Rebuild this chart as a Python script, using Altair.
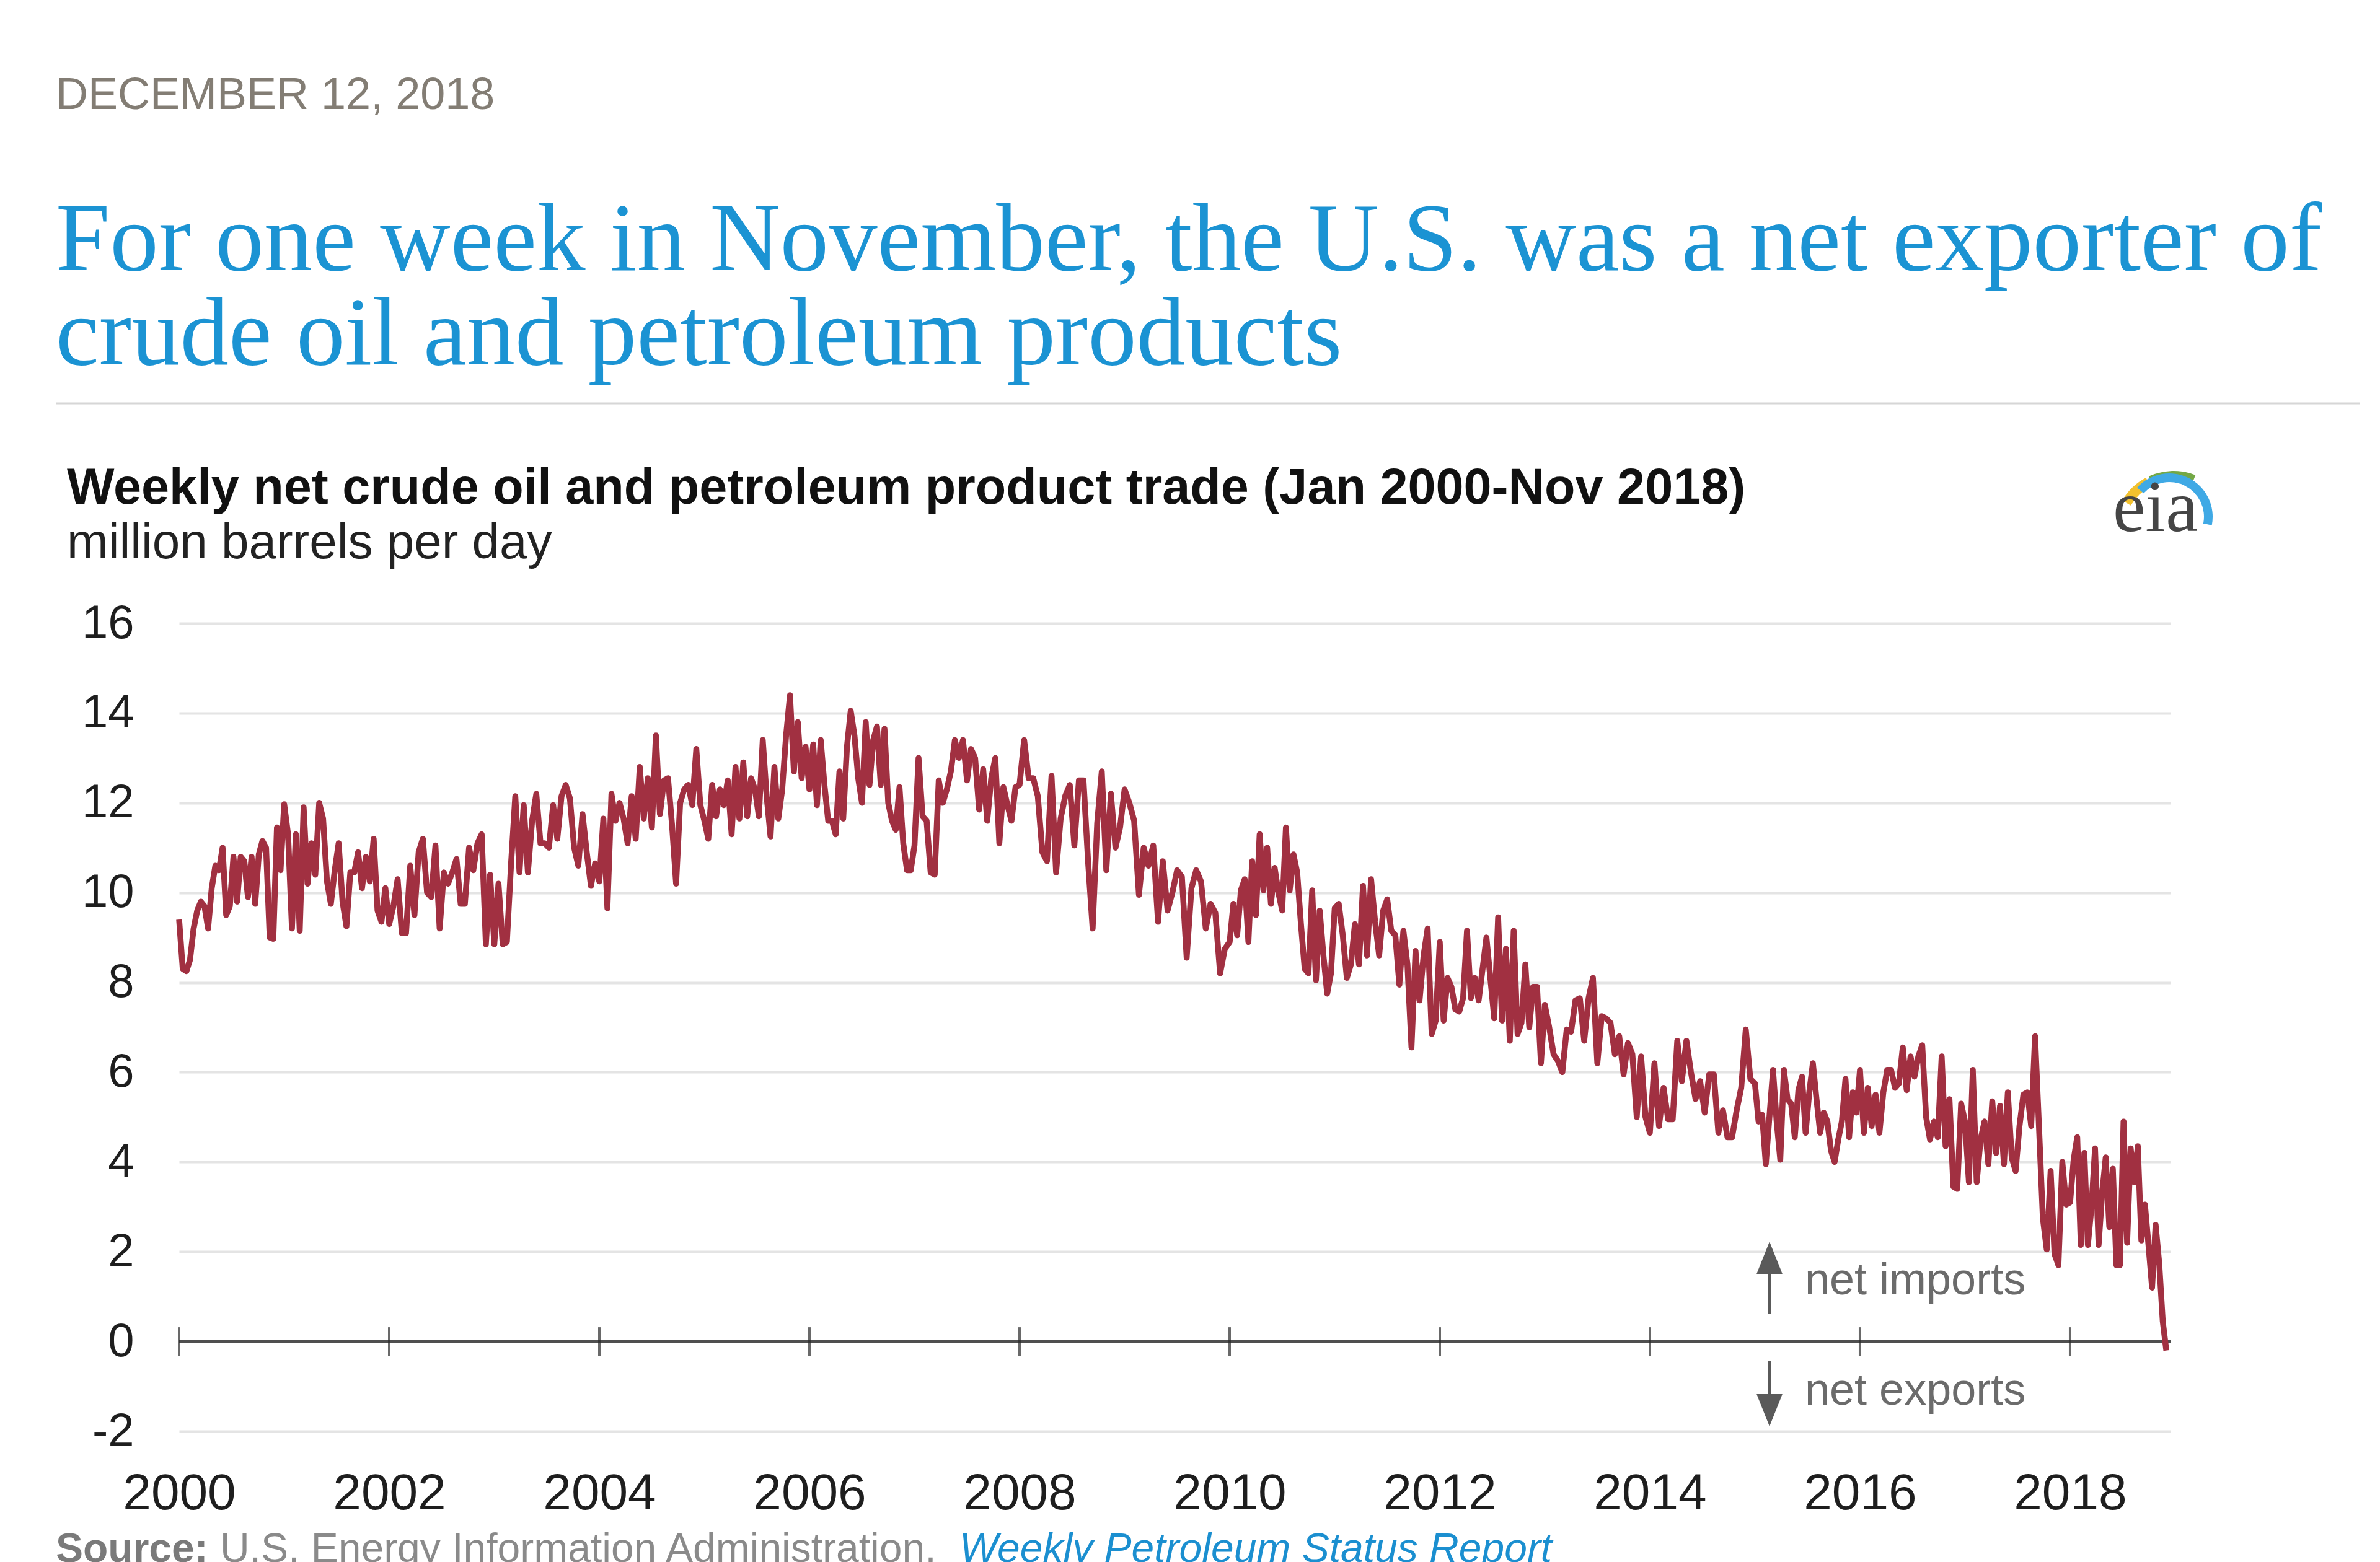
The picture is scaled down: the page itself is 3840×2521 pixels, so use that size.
import altair as alt
import pandas as pd

# ---------------- data (million barrels per day) ----------------
V2000 = [9.4, 8.3, 8.25, 8.5, 9.2, 9.6, 9.8, 9.7, 9.2, 10.1, 10.6, 10.5, 11.0, 9.5, 9.7, 10.8, 9.8,
         10.8, 10.7, 9.9, 10.8, 9.75, 10.85, 11.15, 11.0, 9.0, 8.97, 11.45, 10.5]
V2001 = [11.97, 11.3, 9.2, 11.3, 9.15, 11.9, 10.2, 11.1, 10.4, 12.0, 11.65, 10.25, 9.75, 10.5, 11.1,
         9.8, 9.25, 10.45, 10.45, 10.9, 10.1, 10.8, 10.25, 11.2, 9.6, 9.35, 10.1]
V2002 = [9.3, 9.7, 10.3, 9.1, 9.1, 10.6, 9.5, 10.9, 11.2, 10.0, 9.9, 11.05, 9.2, 10.45, 10.2, 10.45,
         10.75, 9.75, 9.75, 11.0, 10.5, 11.1, 11.3, 8.85, 10.4]
V2003 = [8.85, 10.2, 8.85, 8.9, 10.65, 12.15, 10.45, 11.95, 10.45, 11.6, 12.2, 11.1, 11.1, 11.0, 11.95,
         11.2, 12.15, 12.4, 12.1, 11.0, 10.6, 11.75, 10.9, 10.15, 10.65]
V2004 = [10.25, 11.65, 9.65, 12.2, 11.6, 12.0, 11.65, 11.1, 12.15, 11.2, 12.8, 11.65, 12.55, 11.45, 13.5,
         11.75, 12.5, 12.55, 11.5, 10.2, 12.0, 12.3, 12.4, 11.95, 13.2, 11.95]
V2005 = [11.6, 11.2, 12.4, 11.7, 12.3, 11.95, 12.5, 11.3, 12.8, 11.65, 12.9, 11.7, 12.55, 12.3, 11.7,
         13.4, 12.15, 11.25, 12.8, 11.65, 12.3, 13.5, 14.4, 12.7, 13.8, 12.55, 13.25]
V2006 = [12.3, 13.3, 11.95, 13.4, 12.4, 11.6, 11.6, 11.3, 12.7, 11.65, 13.25, 14.05, 13.5, 12.55, 12.0,
         13.8, 12.4, 13.4, 13.7, 12.4, 13.65, 12.0, 11.6, 11.4, 12.35, 11.1, 10.5, 10.5]
V2007 = [11.05, 13.0, 11.7, 11.6, 10.45, 10.4, 12.5, 12.0, 12.3, 12.7, 13.4, 13.0, 13.4, 12.5, 13.2,
         13.0, 11.85, 12.75, 11.6, 12.55, 13.0, 11.1, 12.35, 11.95, 11.6, 12.35]
V2008 = [12.4, 13.4, 12.55, 12.55, 12.15, 10.9, 10.7, 12.6, 10.45, 11.65, 12.15, 12.4, 11.05, 12.5,
         12.5, 10.7, 9.2, 11.55, 12.7, 10.5, 12.2, 11.0, 11.45]
V2009 = [12.3, 12.0, 11.6, 9.95, 11.0, 10.6, 11.05, 9.35, 10.7, 9.6, 10.0, 10.5, 10.35, 8.55, 10.1,
         10.5, 10.25, 9.2, 9.75, 9.55, 8.2, 8.75]
V2010 = [8.9, 9.75, 9.05, 10.05, 10.3, 8.9, 10.7, 9.5, 11.3, 10.05, 11.0, 9.75, 10.55, 10.0, 9.6,
         11.45, 10.05, 10.85, 10.45, 9.3, 8.3, 8.2, 10.05, 8.05, 9.6, 8.6, 7.75, 8.2]
V2011 = [9.65, 9.75, 9.05, 8.1, 8.4, 9.3, 8.4, 10.15, 8.6, 10.3, 9.35, 8.6, 9.6, 9.85, 9.15, 9.05,
         7.95, 9.15, 8.4, 6.55, 8.7, 7.6, 8.6, 9.2, 6.85, 7.15]
V2012 = [8.9, 7.15, 8.1, 7.9, 7.4, 7.35, 7.65, 9.15, 7.65, 8.1, 7.6, 8.3, 9.0, 8.1, 7.2, 9.45, 7.15,
         8.75, 6.7, 9.15, 6.85, 7.1, 8.4, 7.0, 7.9, 7.9, 6.2]
V2013 = [7.5, 7.0, 6.4, 6.25, 6.0, 6.95, 6.9, 7.6, 7.65, 6.7, 7.65, 8.1, 6.2, 7.25, 7.2, 7.1, 6.4,
         6.8, 5.95, 6.65, 6.4, 5.0, 6.35, 5.0]
V2014 = [4.65, 6.2, 4.8, 5.65, 4.95, 4.95, 6.7, 5.8, 6.7, 6.0, 5.4, 5.8, 5.1, 5.95, 5.95, 4.65, 5.15,
         4.55, 4.55, 5.15, 5.65, 6.95, 5.85]
V2015 = [5.75, 4.9, 5.05, 3.95, 5.0, 6.05, 4.9, 4.05, 6.05, 5.4, 5.3, 4.55, 5.6, 5.9, 4.65, 5.55, 6.2,
         5.4, 4.65, 5.1, 4.9, 4.25, 4.0, 4.5, 4.9, 5.85, 4.55, 5.55, 5.1]
V2016 = [6.05, 4.65, 5.65, 4.8, 5.5, 4.65, 5.55, 6.05, 6.05, 5.65, 5.75, 6.55, 5.6, 6.35, 5.9, 6.35,
         6.6, 5.0, 4.5, 4.9, 4.55, 6.35, 4.35, 5.4, 3.45, 3.4, 5.3]
V2017 = [4.9, 3.55, 6.05, 3.55, 4.5, 4.9, 3.95, 5.35, 4.2, 5.25, 3.95, 5.55, 4.1, 3.8, 4.8, 5.5, 5.55,
         4.8, 6.8, 4.8, 2.75, 2.05, 3.8, 1.95, 1.7, 4.0, 3.05]
V2018 = [3.1, 4.05, 4.55, 2.15, 4.2, 2.15, 3.0, 4.3, 2.15, 3.3, 4.1, 2.55, 3.85, 1.7, 1.7, 4.9, 2.2,
         4.3, 3.55, 4.35, 2.25, 3.05, 2.15, 1.2, 2.6, 1.75, 0.45, -0.2]

YEARS = list(range(2000, 2019))
SERIES = [V2000, V2001, V2002, V2003, V2004, V2005, V2006, V2007, V2008, V2009,
          V2010, V2011, V2012, V2013, V2014, V2015, V2016, V2017, V2018]
LAST_YEAR_SPAN = 0.95          # data run through the end of November 2018
TICK_YEARS = [2000, 2002, 2004, 2006, 2008, 2010, 2012, 2014, 2016, 2018]
Y_TICKS = [-2, 0, 2, 4, 6, 8, 10, 12, 14, 16]
X_END = 2018.956

rows = []
for yr, vals in zip(YEARS, SERIES):
    span = LAST_YEAR_SPAN if yr == 2018 else 1.0
    n = len(vals)
    for i, v in enumerate(vals):
        rows.append({"t": yr + i / n * span, "v": v})
df = pd.DataFrame(rows)

# ---------------- layout (pixels) ----------------
W, H = 3213, 1304
PAD = {"left": 289, "top": 1006, "right": 338, "bottom": 211}
SANS = "Liberation Sans"
SERIF = "Liberation Serif"

x_enc = alt.X("t:Q", scale=alt.Scale(domain=[2000, X_END], nice=False, zero=False),
              axis=alt.Axis(values=TICK_YEARS, format="d", title=None, ticks=False, domain=False,
                            grid=False, labelFontSize=82, labelPadding=60, labelColor="#1e1e1e",
                            labelFlush=False, labelOverlap=False, labelFont=SANS, labelLimit=0))
y_enc = alt.Y("v:Q", scale=alt.Scale(domain=[-2, 16], nice=False, zero=False),
              axis=alt.Axis(values=Y_TICKS, title=None, ticks=False, domain=False, grid=True,
                            gridColor="#e4e4e4", gridWidth=4, labelFontSize=76, labelPadding=73,
                            labelColor="#1e1e1e", labelFont=SANS, labelLimit=0,
                            labelExpr="'' + datum.value"))

line = alt.Chart(df).mark_line(color="#a13041", strokeWidth=9.5, strokeJoin="round").encode(
    x=x_enc, y=y_enc)

zero = alt.Chart(pd.DataFrame({"t": [2000], "t2": [X_END], "v": [0]})).mark_rule(
    color="#4f4f4f", strokeWidth=5).encode(x=x_enc, x2="t2:Q", y=y_enc)

ticks = alt.Chart(pd.DataFrame({"t": TICK_YEARS, "v": [0] * len(TICK_YEARS)})).mark_tick(
    orient="vertical", size=46, thickness=4, color="#2a2a2a").encode(x=x_enc, y=y_enc)

one = alt.Data(values=[{"a": 1}])


def text(txt, x, y, size, color, font=SANS, weight="normal", style="normal"):
    return alt.Chart(one).mark_text(text=txt, align="left", baseline="alphabetic", fontSize=size,
                                    font=font, fontWeight=weight, fontStyle=style,
                                    color=color).encode(x=alt.value(x), y=alt.value(y))


def rule(x, x2, y, y2, color, width):
    return alt.Chart(one).mark_rule(color=color, strokeWidth=width).encode(
        x=alt.value(x), x2=alt.value(x2), y=alt.value(y), y2=alt.value(y2))


def head(x, y, shape):
    return alt.Chart(one).mark_point(shape=shape, size=2704, filled=True, color="#5a5a5a",
                                     opacity=1).encode(x=alt.value(x), y=alt.value(y))


def arc(cx, cy, r, r2, th, th2, color):
    return alt.Chart(one).mark_arc(radius=r, radius2=r2, theta=th, theta2=th2, color=color).encode(
        x=alt.value(cx), y=alt.value(cy))


header = [
    text("DECEMBER 12, 2018", -199, -830, 72, "#837d74"),
    text("For one week in November, the U.S. was a net exporter of", -199, -570, 157, "#1b93d3", SERIF),
    text("crude oil and petroleum products", -199, -418, 157, "#1b93d3", SERIF),
    rule(-199, 3519, -355, -355, "#d6d6d6", 3),
    text("Weekly net crude oil and petroleum product trade (Jan 2000-Nov 2018)", -181, -193, 81,
         "#111111", weight="bold"),
    text("million barrels per day", -181, -105, 80, "#222222"),
    # eia logo
    arc(3218, -150, 96, 80, 5.24, 5.80, "#f2c12e"),
    arc(3218, -150, 96, 80, 5.85, 6.66, "#74a846"),
    arc(3211, -172, 70, 56, 5.45, 8.05, "#3fa9e5"),
    text("eia", 3120, -149, 118, "#454545", SERIF),
]

annotations = [
    rule(2566, 2566, 1114, 1046, "#5a5a5a", 4),
    head(2566, 1024, "M0,-1L0.8,1L-0.8,1Z"),
    text("net imports", 2623, 1083, 72, "#6b6b6b"),
    rule(2566, 2566, 1191, 1250, "#5a5a5a", 4),
    head(2566, 1270, "M0,1L0.8,-1L-0.8,-1Z"),
    text("net exports", 2623, 1261, 72, "#6b6b6b"),
]

source = [
    text("Source:", -199, 1515, 66, "#7a7a7a", weight="bold"),
    text("U.S. Energy Information Administration,", 66, 1515, 66, "#8a8a8a"),
    text("Weekly Petroleum Status Report", 1259, 1515, 66, "#1b8fd0", style="italic"),
]

chart = alt.layer(zero, ticks, line, *header, *annotations, *source).properties(
    width=W, height=H, padding=PAD, autosize=alt.AutoSizeParams(type="none"),
    background="white",
).configure_view(stroke=None)

chart.save("out.html", embed_options={"renderer": "svg", "actions": False})
